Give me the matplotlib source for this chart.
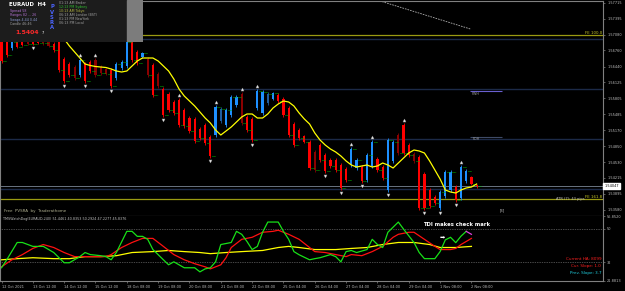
"""EURAUD H4 chart with PVSRA candles and TDI sub-window, MT4 style."""

import matplotlib

matplotlib.use("Agg")
import matplotlib.pyplot as plt
import matplotlib.transforms as mtransforms
import numpy as np
from matplotlib.patches import Rectangle

# ---- price bars (H4) ----
opens = [
    1.5697, 1.5701, 1.5681, 1.5695, 1.5699, 1.5695, 1.5695, 1.5699, 1.5701, 1.5695,
    1.5689, 1.5693, 1.5659, 1.5649, 1.5643, 1.5627, 1.5649, 1.5653, 1.5657, 1.5643,
    1.5639, 1.5637, 1.5621, 1.5641, 1.5645, 1.5703, 1.5673, 1.5663, 1.5659, 1.5647,
    1.5629, 1.5599, 1.5589, 1.5573, 1.5577, 1.5557, 1.5541, 1.5539, 1.5519, 1.5527,
    1.5503, 1.5507, 1.5535, 1.5527, 1.5547, 1.5567, 1.5589, 1.5543, 1.5539, 1.5561,
    1.5551, 1.5571, 1.5579, 1.5587, 1.5579, 1.5561, 1.5529, 1.5517, 1.5505, 1.5493,
    1.5473, 1.5487, 1.5467, 1.5457, 1.5457, 1.5447, 1.5439, 1.5447, 1.5441, 1.5443,
    1.5417, 1.5445, 1.5459, 1.5443, 1.5397, 1.5455, 1.5507, 1.5527, 1.5487, 1.5469,
    1.5463, 1.5429, 1.5397, 1.5383, 1.5361, 1.5385, 1.5397, 1.5403, 1.5381, 1.5415,
    1.5423, 1.5406,
]
highs = [
    1.5701, 1.5705, 1.5697, 1.5697, 1.5701, 1.5697, 1.5697, 1.5701, 1.5705, 1.5697,
    1.5693, 1.5697, 1.5663, 1.5653, 1.5647, 1.5661, 1.5653, 1.5657, 1.5661, 1.5647,
    1.5641, 1.5641, 1.5653, 1.5657, 1.5697, 1.5707, 1.5677, 1.5673, 1.5663, 1.5651,
    1.5633, 1.5603, 1.5593, 1.5577, 1.5581, 1.5561, 1.5545, 1.5543, 1.5523, 1.5531,
    1.5507, 1.5567, 1.5563, 1.5561, 1.5587, 1.5587, 1.5593, 1.5547, 1.5543, 1.5599,
    1.5597, 1.5593, 1.5593, 1.5591, 1.5583, 1.5565, 1.5533, 1.5521, 1.5507, 1.5497,
    1.5477, 1.5491, 1.5471, 1.5461, 1.5461, 1.5451, 1.5443, 1.5483, 1.5461, 1.5447,
    1.5471, 1.5497, 1.5463, 1.5447, 1.5501, 1.5497, 1.5511, 1.5531, 1.5491, 1.5473,
    1.5467, 1.5433, 1.5401, 1.5387, 1.5397, 1.5437, 1.5437, 1.5407, 1.5447, 1.5439,
    1.5425, 1.5407,
]
lows = [
    1.5651, 1.5663, 1.5677, 1.5681, 1.5685, 1.5687, 1.5687, 1.5689, 1.5687, 1.5683,
    1.5673, 1.5633, 1.5611, 1.5623, 1.5617, 1.5623, 1.5611, 1.5631, 1.5623, 1.5627,
    1.5627, 1.5601, 1.5617, 1.5637, 1.5641, 1.5653, 1.5647, 1.5661, 1.5623, 1.5583,
    1.5601, 1.5543, 1.5553, 1.5547, 1.5523, 1.5521, 1.5511, 1.5491, 1.5497, 1.5487,
    1.5461, 1.5503, 1.5531, 1.5523, 1.5543, 1.5563, 1.5527, 1.5513, 1.5493, 1.5557,
    1.5547, 1.5567, 1.5577, 1.5571, 1.5543, 1.5503, 1.5483, 1.5497, 1.5491, 1.5437,
    1.5433, 1.5453, 1.5431, 1.5441, 1.5433, 1.5397, 1.5413, 1.5443, 1.5437, 1.5411,
    1.5413, 1.5441, 1.5433, 1.5417, 1.5393, 1.5451, 1.5467, 1.5467, 1.5463, 1.5451,
    1.5357, 1.5357, 1.5361, 1.5367, 1.5357, 1.5381, 1.5393, 1.5373, 1.5377, 1.5411,
    1.5407, 1.5401,
]
closes = [
    1.5655, 1.5667, 1.5693, 1.5683, 1.5687, 1.5689, 1.5689, 1.5691, 1.5691, 1.5685,
    1.5677, 1.5637, 1.5615, 1.5627, 1.5621, 1.5657, 1.5615, 1.5635, 1.5627, 1.5631,
    1.5629, 1.5605, 1.5649, 1.5653, 1.5693, 1.5657, 1.5651, 1.5671, 1.5627, 1.5587,
    1.5605, 1.5547, 1.5557, 1.5551, 1.5527, 1.5525, 1.5515, 1.5495, 1.5501, 1.5491,
    1.5465, 1.5563, 1.5559, 1.5557, 1.5583, 1.5583, 1.5531, 1.5517, 1.5497, 1.5595,
    1.5593, 1.5589, 1.5591, 1.5575, 1.5547, 1.5507, 1.5487, 1.5501, 1.5493, 1.5441,
    1.5437, 1.5457, 1.5435, 1.5445, 1.5437, 1.5401, 1.5417, 1.5479, 1.5457, 1.5415,
    1.5467, 1.5493, 1.5437, 1.5421, 1.5497, 1.5493, 1.5471, 1.5471, 1.5467, 1.5455,
    1.5361, 1.5361, 1.5365, 1.5371, 1.5393, 1.5433, 1.5433, 1.5377, 1.5443, 1.5435,
    1.5409, 1.54047,
]
# PVSRA volume class per bar: c = climax (bright), n = normal (dark)
vol_class = (
    "cccccnccnn" "ccccncccnn" "ncccccccnc" "nccccccccc" "ccncccnccc"
    "cncccccccc" "nccccccccc" "ccccccnccn" "cccccccccc" "cc"
)
ma_values = [
    1.5717, 1.5715, 1.5713, 1.5711, 1.5709, 1.5709, 1.5709, 1.5709, 1.5709, 1.5709,
    1.5709, 1.5707, 1.5699, 1.5685, 1.5673, 1.5661, 1.5649, 1.5646, 1.5644, 1.5643,
    1.5642, 1.5639, 1.5635, 1.5633, 1.5635, 1.5645, 1.5655, 1.5661, 1.5661, 1.5661,
    1.5655, 1.5645, 1.5635, 1.5619, 1.5599, 1.5585, 1.5575, 1.5565, 1.5553, 1.5541,
    1.5531, 1.5517, 1.5507, 1.5515, 1.5523, 1.5533, 1.5543, 1.5549, 1.5549, 1.5541,
    1.5541, 1.5549, 1.5561, 1.5569, 1.5575, 1.5573, 1.5565, 1.5551, 1.5539, 1.5529,
    1.5511, 1.5497, 1.5487, 1.5479, 1.5473, 1.5465, 1.5455, 1.5447, 1.5443, 1.5445,
    1.5447, 1.5443, 1.5445, 1.5451, 1.5447, 1.5441, 1.5451, 1.5461, 1.5471, 1.5477,
    1.5475, 1.5471, 1.5455, 1.5437, 1.5419, 1.5397, 1.5393, 1.5391, 1.5397, 1.5401,
    1.5403, 1.5409,
]
fractal_up = [15, 18, 34, 41, 46, 49, 67, 71, 77, 88]
fractal_down = [6, 12, 16, 21, 31, 40, 48, 62, 65, 69, 74, 81, 84, 87]

round_levels = [1.5700, 1.5600, 1.5500, 1.5400]
fe_levels = [1.5707, 1.5379]
fe_labels = ["FE 100.0", "FE 161.8"]
bid_price = 1.54047
pwh_level = 1.5595
pdh_level = 1.5503
trend_bars = [71.9, 89.8]
trend_prices = [1.5777, 1.5719]

price_ticks = [1.57715, 1.57395, 1.57080, 1.56760, 1.56440, 1.56125, 1.55805,
               1.55485, 1.55170, 1.54850, 1.54530, 1.54215, 1.53895, 1.53580]
time_labels = ["12 Oct 2021", "13 Oct 12:00", "14 Oct 12:00", "15 Oct 12:00",
               "18 Oct 08:00", "19 Oct 08:00", "20 Oct 08:00", "21 Oct 08:00",
               "22 Oct 08:00", "25 Oct 04:00", "26 Oct 04:00", "27 Oct 04:00",
               "28 Oct 04:00", "29 Oct 04:00", "1 Nov 08:00", "2 Nov 08:00"]

# ---- TDI sub-window ----
rsi_bars = [0, 1, 3, 4, 6, 8, 10, 12, 13, 15, 16, 17, 19, 20, 21, 22, 24, 25, 26, 27,
            28, 29, 31, 32, 33, 34, 35, 37, 38, 39, 40, 41, 42, 44, 45, 46, 47, 48, 49, 50,
            51, 53, 54, 55, 56, 57, 59, 60, 61, 63, 64, 65, 66, 67, 68, 70, 71, 72, 73, 74,
            76, 77, 79, 80, 81, 83, 84, 85, 86, 87, 88, 89]
rsi_values = [29.0, 33.3, 42.6, 42.6, 40.5, 40.5, 37.2, 31.7, 31.7, 35.0,
              37.2, 36.1, 35.5, 35.0, 33.3, 37.2, 48.6, 48.6, 45.9, 45.9,
              44.3, 38.8, 33.3, 30.6, 32.2, 30.6, 29.0, 29.0, 26.8, 28.4,
              29.0, 32.2, 41.5, 42.6, 48.6, 47.0, 43.2, 38.8, 40.5, 48.1,
              53.6, 53.6, 48.6, 44.3, 37.7, 36.0, 33.3, 33.9, 34.4, 36.1,
              35.0, 32.2, 37.7, 38.3, 37.2, 38.8, 44.3, 41.5, 39.9, 48.1,
              53.6, 49.8, 42.6, 37.2, 33.9, 33.9, 37.7, 44.0, 45.4, 42.5,
              46.0, 48.6]
hook_bars = [89, 90]
hook_values = [48.6, 47.0]
signal_bars = [0, 2, 4, 6, 8, 10, 12, 14, 16, 18, 20, 21, 23, 25, 27, 29, 31, 33, 35, 37,
               39, 40, 42, 43, 44, 46, 48, 50, 52, 53, 55, 57, 59, 60, 62, 64, 66, 67, 69, 71,
               73, 75, 76, 78, 79, 81, 83, 84, 86, 87, 88, 90]
signal_values = [29.5, 33.3, 36.1, 39.4, 41.5, 39.9, 37.2, 35.0, 35.0, 35.0,
                 35.0, 36.1, 39.9, 42.6, 44.8, 44.8, 40.5, 36.1, 33.3, 31.2,
                 29.5, 28.4, 30.6, 34.4, 39.9, 44.3, 45.4, 48.1, 48.6, 49.2,
                 47.0, 44.3, 39.9, 37.7, 37.2, 36.1, 35.0, 36.1, 35.5, 37.7,
                 40.5, 45.4, 47.0, 48.1, 48.1, 44.3, 40.5, 38.8, 38.8, 39.4,
                 41.5, 44.8]
base_bars = [0, 3, 6, 10, 13, 16, 19, 22, 25, 29, 32, 35, 38, 40, 43, 46, 50, 53, 55, 57,
             60, 64, 67, 70, 73, 76, 79, 82, 84, 87, 90]
base_values = [33.3, 33.9, 34.4, 33.9, 33.9, 35.0, 35.0, 35.5, 37.2, 37.7,
               38.3, 37.7, 37.2, 36.6, 37.2, 37.7, 38.3, 39.9, 40.5, 39.9,
               38.8, 38.8, 39.4, 39.9, 41.5, 42.6, 42.6, 41.5, 39.9, 39.9,
               40.5]
tdi_levels = [50, 32]
tdi_min, tdi_max = 21.8813, 56.852

# ---- layout helpers (pixel boxes on a 625x291 canvas) ----
W, H = 625, 291
GRAY = "#808080"
TXT = "#c0c0c0"


def px_box(x0, y0, x1, y1):
    return [x0 / W, 1 - y1 / H, (x1 - x0) / W, (y1 - y0) / H]


fig = plt.figure(figsize=(W / 100, H / 100), dpi=100, facecolor="black")
ax = fig.add_axes(px_box(0, 1, 603, 216), facecolor="black")
axs = fig.add_axes(px_box(0, 216, 603, 281), facecolor="black")

xlim = (-0.29, 115.2)
x = np.arange(len(opens))
o = np.array(opens)
c = np.array(closes)
hi = np.array(highs)
lo = np.array(lows)

# candle colours
colors = []
for i in range(len(o)):
    bull = c[i] >= o[i]
    bright = vol_class[i] == "c"
    if bull:
        colors.append("#1e90ff" if bright else "#1f5c9e")
    else:
        colors.append("#ff0000" if bright else "#8b0000")

# horizontal levels
for lvl in round_levels:
    ax.axhline(lvl, color="#1c2a48", lw=1.0, zorder=1)
for lvl, lab in zip(fe_levels, fe_labels):
    ax.axhline(lvl, color="#9a9a12", lw=0.9, zorder=1)
    ax.text(0.998, lvl + 0.0001, lab, transform=ax.get_yaxis_transform(),
            ha="right", va="bottom", fontsize=2.8, color="#c8c828")
ax.axhline(bid_price, color="#7a8696", lw=0.6, zorder=1)
ax.text(108.9, fe_levels[1], "ATR (7): 43 pips", ha="center", va="center",
        fontsize=2.6, color=TXT)

ax.hlines(pwh_level, 89.8, 95.9, color="#6a5fd0", lw=0.8)
ax.text(90.0, pwh_level - 0.0006, "PWH", fontsize=2.4, color="#a0a0a0", va="center")
ax.hlines(pdh_level, 89.8, 95.9, color="#3e4a66", lw=0.8)
ax.text(90.3, pdh_level - 0.0005, "PDH", fontsize=2.4, color="#a0a0a0", va="center")

ax.plot(trend_bars, trend_prices, color="#b0b0b0", lw=0.6, ls=(0, (2, 1.2)))

# candles
ax.vlines(x, lo, hi, colors=colors, lw=0.6, zorder=3)
body_lo = np.minimum(o, c)
body_h = np.maximum(np.abs(c - o), 0.00015)
ax.bar(x, body_h, bottom=body_lo, width=0.42, color=colors, zorder=3)
ax.hlines(c, x + 0.3, x + 0.95, colors="#00b400", lw=0.7,
          linestyles=(0, (1, 1)), zorder=3)

ax.plot(x, ma_values, color="#ffff00", lw=0.9, zorder=4)

ax.plot(fractal_up, hi[fractal_up] + 0.0006, ls="none", marker="^", ms=2.2,
        color="#e6e6e6", mec="#909090", mew=0.3, zorder=5)
ax.plot(fractal_down, lo[fractal_down] - 0.0006, ls="none", marker="v", ms=2.2,
        color="#e6e6e6", mec="#909090", mew=0.3, zorder=5)

ax.text(0.5, 1.5355, "Free  PVSRA  by  Traderathome", fontsize=2.9,
        color="#b0b090", va="center")
ax.text(95.9, 1.5357, "[3]", fontsize=2.6, color="#d0d0d0", ha="center", va="center")

ax.set_xlim(*xlim)
ax.set_ylim(1.5345, 1.5775)
ax.set_xticks([])
ax.yaxis.tick_right()
ax.set_yticks(price_ticks)
ax.set_yticklabels([f"{p:.5f}" for p in price_ticks])
ax.tick_params(axis="y", colors=GRAY, labelcolor=TXT, labelsize=2.5,
               length=1.5, width=0.5, pad=1.5)
for sp in ax.spines.values():
    sp.set_color(GRAY)
    sp.set_linewidth(0.8)

trans = mtransforms.blended_transform_factory(ax.transAxes, ax.transData)
ax.text(1.002, bid_price, "1.54047", transform=trans, fontsize=2.5,
        color="black", va="center", ha="left", clip_on=False,
        bbox=dict(boxstyle="square,pad=0.25", fc="white", ec="white"))

# ---- TDI panel ----
for lvl in tdi_levels:
    axs.axhline(lvl, color="#909090", lw=0.5, ls=(0, (1, 1.5)))
axs.plot(base_bars, base_values, color="#ffff00", lw=0.9)
axs.plot(signal_bars, signal_values, color="#ff1010", lw=0.9)
axs.plot(rsi_bars, rsi_values, color="#18e018", lw=0.9)
axs.plot(hook_bars, hook_values, color="#e040e0", lw=0.9)

axs.text(0.005, 55.0, "TMSWatchDog(EURAUD,240) 51.4461 40.8353 50.2924 47.2277 45.8376",
         transform=axs.get_yaxis_transform(), fontsize=2.4, color=TXT, va="center")
axs.text(80.7, 52.3, "TDI makes check mark", fontsize=3.8, color="white",
         fontweight="bold", va="center")
axs.text(84.4, 45.9, "\u27a1", fontsize=4.5, color="white", ha="center", va="center")
axs.text(0.997, 33.9, "Current HA: 8099", transform=axs.get_yaxis_transform(),
         fontsize=3.0, color="#ff2020", ha="right", va="center")
axs.text(0.997, 30.1, "Cur. Slope: 1.0", transform=axs.get_yaxis_transform(),
         fontsize=3.0, color="#ff2020", ha="right", va="center")
axs.text(0.997, 26.2, "Prev. Slope: 3.7", transform=axs.get_yaxis_transform(),
         fontsize=3.0, color="#20d0e0", ha="right", va="center")

axs.set_xlim(*xlim)
axs.set_ylim(tdi_min, tdi_max)
axs.yaxis.tick_right()
axs.set_yticks([tdi_max, 50, 32, tdi_min])
axs.set_yticklabels(["56.8520", "50", "32", "21.8813"])
axs.set_xticks(np.arange(len(time_labels)) * 6)
axs.set_xticklabels(time_labels, ha="left")
axs.tick_params(axis="both", colors=GRAY, labelcolor=TXT, labelsize=2.5,
                length=1.5, width=0.5, pad=1.5)
for sp in axs.spines.values():
    sp.set_color(GRAY)
    sp.set_linewidth(0.8)
axs.spines["top"].set_visible(False)

# ---- info panel (top left) ----
axi = fig.add_axes(px_box(0, 0, 143, 42))
axi.set_xlim(0, 143)
axi.set_ylim(42, 0)
axi.axis("off")
axi.add_patch(Rectangle((0, 0), 127, 42, color="#1c1c1c", zorder=0))
axi.add_patch(Rectangle((127, 0), 16, 42, color="#7c7c7c", zorder=0))
axi.text(9, 5, "EURAUD  H4", fontsize=3.9, fontweight="bold", color="white", va="center")
info_rows = ["Spread 58", "Ranges 82 ... 26", "Swaps 4.44 0.44", "Candle 46:46"]
info_colors = ["#b070d0", "#b070d0", "#8a9ad0", "#a0a0a0"]
for k, (row, col) in enumerate(zip(info_rows, info_colors)):
    axi.text(10, 11 + 4.3 * k, row, fontsize=2.3, color=col, va="center")
axi.text(15, 32, "1.5404", fontsize=4.4, fontweight="bold", color="#ff2a2a", va="center")
axi.text(42, 33, "7", fontsize=2.6, color="white", va="center")
for k, ch in enumerate("PVSRA"):
    axi.text(52, 7 + 5.2 * k, ch, fontsize=3.8, fontweight="bold", color="#4a64ff",
             ha="center", va="center")
clock_rows = ["01:13 AM Broker", "12:13 PM Sydney", "10:13 AM Tokyo",
              "06:13 AM London (BST)", "01:13 PM NewYork", "06:13 PM Local"]
clock_colors = ["#a0a0a0", "#30c030", "#b0b040", "#a0a0a0", "#a0a0a0", "#a0a0a0"]
for k, (row, col) in enumerate(zip(clock_rows, clock_colors)):
    axi.text(59, 3.3 + 4.0 * k, row, fontsize=2.3, color=col, va="center")

fig.savefig("out.png", dpi=100, facecolor="black")
